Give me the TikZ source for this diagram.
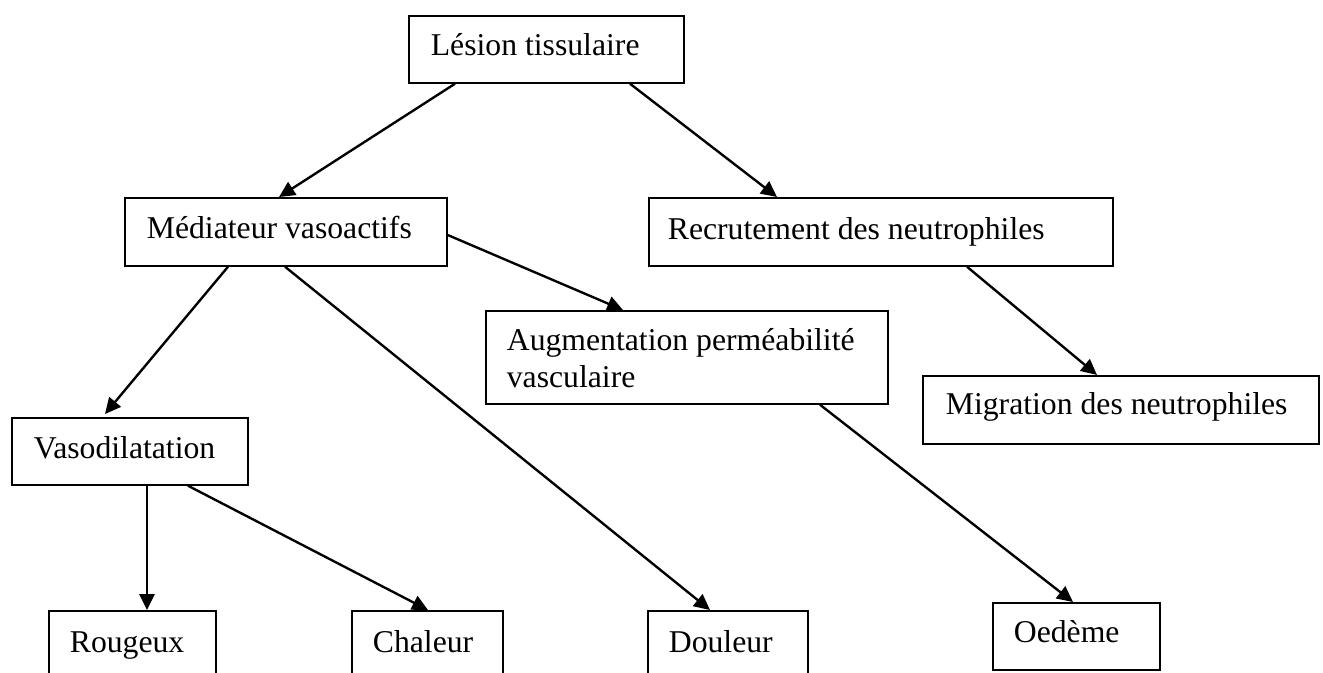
\documentclass[tikz,border=0pt]{standalone}
\usepackage{fontspec}
\setmainfont{Liberation Serif}
\usetikzlibrary{arrows.meta,calc}
\tikzset{
  box/.style={draw, line width=0.65pt, rectangle, anchor=north west, inner ysep=0pt,
    font=\fontsize{12}{14}\selectfont},
  conn/.style={line width=0.9pt, -{Triangle[length=6pt,width=5.7pt]}}
}
\begin{document}
\begin{tikzpicture}[x=0.3785pt, y=-0.3785pt]
\useasboundingbox (0,0) rectangle (1323,672);
\begin{scope}
\clip (0,0) rectangle (1323,672);
\node[box, inner xsep=8.33pt, text height=15.14pt, text depth=10.22pt] (les) at (408,15)
  {\makebox[87.43pt][l]{Lésion tissulaire}};
\node[box, inner xsep=8.33pt, text height=15.52pt, text depth=10.22pt] (med) at (124,197)
  {\makebox[105.22pt][l]{Médiateur vasoactifs}};
\node[box, inner xsep=7.19pt, text height=15.90pt, text depth=9.84pt] (rec) at (648,197)
  {\makebox[161.24pt][l]{Recrutement des neutrophiles}};
\node[box, inner xsep=7.95pt, text height=15.14pt, text depth=20.06pt] (aug) at (485,310)
  {\parbox[t]{136.26pt}{\baselineskip=14pt Augmentation perméabilité\\vasculaire}};
\node[box, inner xsep=8.71pt, text height=14.76pt, text depth=10.98pt] (mig) at (922,375)
  {\makebox[132.48pt][l]{Migration des neutrophiles}};
\node[box, inner xsep=8.33pt, text height=15.52pt, text depth=9.84pt] (vaso) at (11,417)
  {\makebox[72.67pt][l]{Vasodilatation}};
\node[box, inner xsep=7.95pt, text height=15.90pt, text depth=9.46pt] (roug) at (48,610)
  {\makebox[47.31pt][l]{Rougeux}};
\node[box, inner xsep=7.95pt, text height=15.90pt, text depth=9.46pt] (chal) at (351,610)
  {\makebox[41.26pt][l]{Chaleur}};
\node[box, inner xsep=7.95pt, text height=15.90pt, text depth=9.46pt] (doul) at (647,610)
  {\makebox[44.66pt][l]{Douleur}};
\node[box, inner xsep=7.95pt, text height=15.14pt, text depth=10.22pt] (oed) at (992,602)
  {\makebox[47.31pt][l]{Oedème}};

\draw[conn] ($(les.south west)+(47,0)$) -- ($(med.north west)+(155,0)$);
\draw[conn] ($(les.south west)+(222,0)$) -- ($(rec.north west)+(129,0)$);
\draw[conn] ($(med.north east)+(0,38)$) -- ($(aug.north west)+(138,0)$);
\draw[conn] ($(med.south west)+(104,0)$) -- ($(vaso.north west)+(94,-3)$);
\draw[conn] ($(med.south west)+(161,0)$) -- ($(doul.north west)+(63,0)$);
\draw[conn] ($(rec.south west)+(319,0)$) -- ($(mig.north west)+(175,0)$);
\draw[conn] ($(aug.south west)+(335,0)$) -- ($(oed.north west)+(81,0)$);
\draw[conn] ($(vaso.south west)+(136,0)$) -- ($(roug.north west)+(99,0)$);
\draw[conn] ($(vaso.south west)+(177,0)$) -- ($(chal.north west)+(77,0)$);
\end{scope}
\end{tikzpicture}
\end{document}
